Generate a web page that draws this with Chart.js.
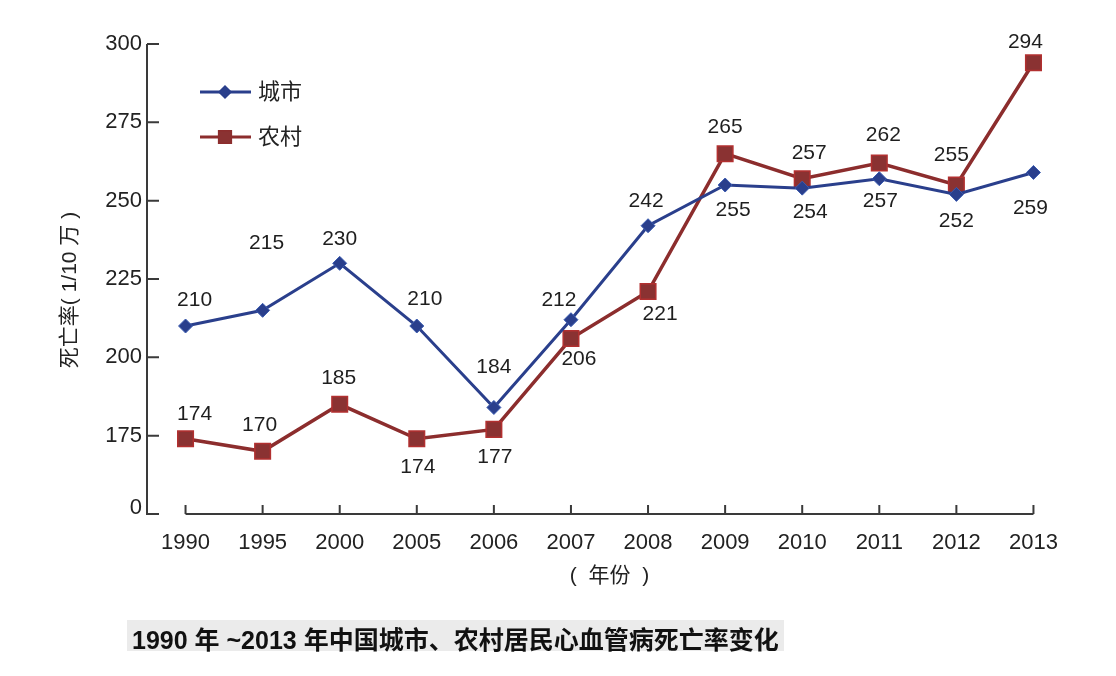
<!DOCTYPE html>
<html>
<head>
<meta charset="utf-8">
<script src="https://cdn.jsdelivr.net/npm/chart.js@4.4.1/dist/chart.umd.min.js"></script>
<style>
    html, body { margin: 0; padding: 0; background: #fff; }
    #wrap { position: relative; width: 1116px; height: 676px; }
    #caption {
        position: absolute; left: 127px; top: 620px; height: 31px; line-height: 31px;
        padding: 0 5px; background: #ebebeb; color: #111;
        font: bold 25px "Liberation Sans", "Noto Sans CJK SC", sans-serif;
        white-space: nowrap;
    }
</style>
</head>
<body>
<div id="wrap">
    <canvas id="chart" width="1116" height="676"></canvas>
    <div id="caption">1990 年 ~2013 年中国城市、农村居民心血管病死亡率变化</div>
</div>
<script>
const years = ['1990', '1995', '2000', '2005', '2006', '2007', '2008', '2009', '2010', '2011', '2012', '2013'];
const cityRate = [210, 215, 230, 210, 184, 212, 242, 255, 254, 257, 252, 259];
const ruralRate = [174, 170, 185, 174, 177, 206, 221, 265, 257, 262, 255, 294];
const yTickValues = [152, 175, 200, 225, 250, 275, 300];
const yTickLabels = ['0', '175', '200', '225', '250', '275', '300'];

// where each value label sits relative to its point (dx, dy)
const cityLabelShift = [[9, -26], [4, -67], [0, -24], [8, -27], [0, -40], [-12, -20], [-2, -25], [8, 25], [8, 24], [1, 22], [0, 27], [-3, 36]];
const ruralLabelShift = [[9, -25], [-3, -26], [-1, -26], [1, 28], [1, 28], [8, 21], [12, 23], [0, -26], [7, -26], [4, -28], [-5, -30], [-8, -21]];

const CITY = '#2a3f8c';
const RURAL = '#8c2d2d';
const FONT = '"Liberation Sans", Arial, sans-serif';
const CJK = '"Liberation Sans", "Noto Sans CJK SC", sans-serif';

const axesPlugin = {
    id: 'axes',
    beforeDatasetsDraw(chart) {
        const {ctx, chartArea, scales: {x, y}} = chart;
        ctx.save();
        ctx.strokeStyle = '#3a3a3a';
        ctx.lineWidth = 2;
        ctx.beginPath();
        ctx.moveTo(chartArea.left, y.getPixelForValue(300));
        ctx.lineTo(chartArea.left, chartArea.bottom);
        ctx.lineTo(chartArea.left + 12, chartArea.bottom);
        yTickValues.slice(1).forEach((v) => {
            const py = y.getPixelForValue(v);
            ctx.moveTo(chartArea.left, py);
            ctx.lineTo(chartArea.left + 12, py);
        });
        const x0 = x.getPixelForValue(0);
        const x1 = x.getPixelForValue(years.length - 1);
        ctx.moveTo(x0, chartArea.bottom);
        ctx.lineTo(x1, chartArea.bottom);
        years.forEach((_, i) => {
            const px = x.getPixelForValue(i);
            ctx.moveTo(px, chartArea.bottom);
            ctx.lineTo(px, chartArea.bottom - 9);
        });
        ctx.stroke();

        // y axis title
        ctx.fillStyle = '#222';
        ctx.font = '21px ' + CJK;
        ctx.textAlign = 'center';
        ctx.textBaseline = 'middle';
        ctx.translate(70, 290);
        ctx.rotate(-Math.PI / 2);
        ctx.fillText('死亡率( 1/10 万 )', 0, 0);
        ctx.restore();
    },
    afterDatasetsDraw(chart) {
        const {ctx} = chart;
        ctx.save();
        ctx.fillStyle = '#1e1e1e';
        ctx.font = '21px ' + FONT;
        ctx.textAlign = 'center';
        ctx.textBaseline = 'middle';
        [cityLabelShift, ruralLabelShift].forEach((shift, d) => {
            const meta = chart.getDatasetMeta(d);
            const values = chart.data.datasets[d].data;
            meta.data.forEach((pt, i) => {
                ctx.fillText(String(values[i]), pt.x + shift[i][0], pt.y + shift[i][1]);
            });
        });

        // legend inside the plot
        const items = [
            {label: '城市', color: CITY, y: 92, style: 'rectRot', r: 6, fill: CITY},
            {label: '农村', color: RURAL, y: 137, style: 'rect', r: 9, fill: '#8a3232'},
        ];
        items.forEach((it) => {
            ctx.strokeStyle = it.color;
            ctx.lineWidth = 3;
            ctx.beginPath();
            ctx.moveTo(200, it.y);
            ctx.lineTo(251, it.y);
            ctx.stroke();
            ctx.fillStyle = it.fill;
            ctx.strokeStyle = it.color;
            ctx.lineWidth = 1.5;
            Chart.helpers.drawPoint(ctx, {pointStyle: it.style, radius: it.r, borderWidth: 1.5}, 225, it.y);
            ctx.fillStyle = '#222';
            ctx.font = '22px ' + CJK;
            ctx.textAlign = 'left';
            ctx.fillText(it.label, 258, it.y + 1);
        });
        ctx.restore();
    },
};

new Chart(document.getElementById('chart'), {
    type: 'line',
    data: {
        labels: years,
        datasets: [
            {
                label: '城市',
                data: cityRate,
                borderColor: CITY,
                borderWidth: 3,
                pointStyle: 'rectRot',
                pointRadius: 7,
                pointBackgroundColor: CITY,
                pointBorderColor: '#3a5bb0',
                pointBorderWidth: 1,
                tension: 0,
            },
            {
                label: '农村',
                data: ruralRate,
                borderColor: RURAL,
                borderWidth: 3.5,
                pointStyle: 'rect',
                pointRadius: 11,
                pointBackgroundColor: '#8a3232',
                pointBorderColor: '#b23030',
                pointBorderWidth: 1.5,
                tension: 0,
            },
        ],
    },
    options: {
        responsive: false,
        animation: false,
        layout: {padding: {left: 0, right: 44, top: 44, bottom: 70}},
        plugins: {
            legend: {display: false},
            tooltip: {enabled: false},
        },
        scales: {
            x: {
                offset: true,
                grid: {display: false, drawTicks: false},
                border: {display: false},
                ticks: {color: '#222', font: {size: 22, family: FONT}, padding: 16, maxRotation: 0},
                title: {display: true, text: '(  年份  )', color: '#222', font: {size: 21, family: CJK}, padding: {top: 0, bottom: 17}},
                afterFit(scale) { scale.height = 92; },
            },
            y: {
                min: 150,
                max: 300,
                grid: {display: false, drawTicks: false},
                border: {display: false},
                afterBuildTicks(scale) {
                    scale.ticks = yTickValues.map((v) => ({value: v}));
                },
                ticks: {
                    color: '#222',
                    font: {size: 22, family: FONT},
                    padding: 5,
                    callback: (value) => yTickLabels[yTickValues.indexOf(value)],
                },
                afterFit(scale) { scale.width = 147; },
            },
        },
    },
    plugins: [axesPlugin],
});
</script>
</body>
</html>
